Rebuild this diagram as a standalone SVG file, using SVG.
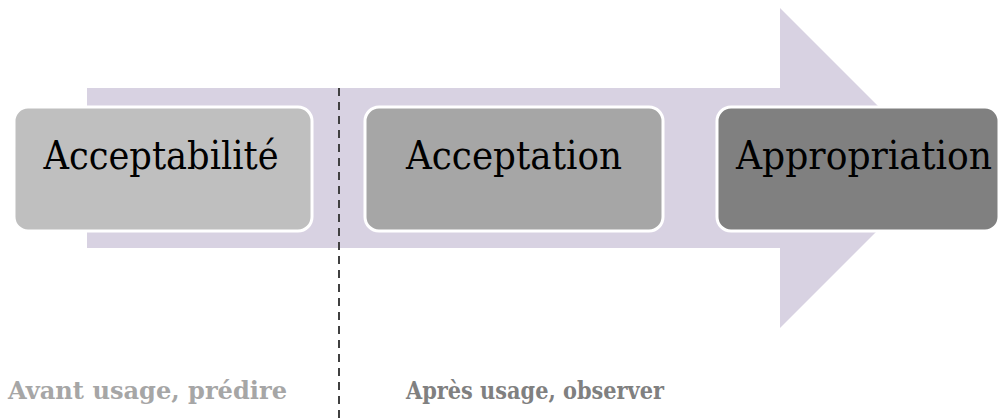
<svg xmlns="http://www.w3.org/2000/svg" width="1002" height="419" viewBox="0 0 1002 419">
<defs>
<style>
.box{stroke:#ffffff;stroke-width:3}
.lbl{font-family:"DejaVu Serif","Liberation Serif",serif;font-size:40px;fill:#000000;text-anchor:middle}
.cap{font-family:"DejaVu Serif","Liberation Serif",serif;font-size:25px;font-weight:bold}
</style>
<filter id="blur" x="-2" y="-0.1" width="5" height="1.2"><feGaussianBlur stdDeviation="2"/></filter>
</defs>
<rect width="1002" height="419" fill="#ffffff"/>
<g id="arrow">
<polygon points="87,88 780,88 780,8 940,168 780,328 780,248 87,248" fill="#d8d2e2"/>
</g>
<g id="connectors">
<line x1="345" y1="88" x2="345" y2="419" stroke="#d0d0d0" stroke-width="4" stroke-dasharray="8 6" filter="url(#blur)" opacity="0.7"/>
<line x1="339" y1="88" x2="339" y2="419" stroke="#404040" stroke-width="2" stroke-dasharray="8 6"/>
</g>
<g id="node-acceptabilite">
<rect class="box" x="14" y="107" width="298" height="124" rx="14" fill="#bfbfbf"/>
<text class="lbl" x="161" y="169" textLength="235" lengthAdjust="spacingAndGlyphs">Acceptabilité</text>
</g>
<g id="node-acceptation">
<rect class="box" x="365" y="107" width="298" height="124" rx="14" fill="#a6a6a6"/>
<text class="lbl" x="514" y="169" textLength="216" lengthAdjust="spacingAndGlyphs">Acceptation</text>
</g>
<g id="node-appropriation">
<rect class="box" x="717" y="107" width="282" height="124" rx="14" fill="#808080"/>
<text class="lbl" x="864" y="169" textLength="256" lengthAdjust="spacingAndGlyphs">Appropriation</text>
</g>
<g id="captions">
<text class="cap" x="8" y="399" fill="#a6a6a6" textLength="279" lengthAdjust="spacingAndGlyphs">Avant usage, prédire</text>
<text class="cap" x="406" y="399" fill="#808080" textLength="258" lengthAdjust="spacingAndGlyphs">Après usage, observer</text>
</g>
</svg>
